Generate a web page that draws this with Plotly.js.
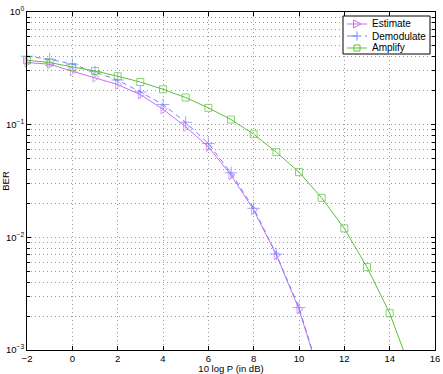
<!DOCTYPE html>
<html>
<head>
<meta charset="utf-8">
<script src="https://cdn.plot.ly/plotly-3.0.1.min.js"></script>
<style>html,body{margin:0;padding:0;background:#fff;}#chart{width:443px;height:374px;}</style>
</head>
<body>
<div id="chart"></div>
<script>
// Data
const xEstimate = [-2, -1, 0, 1, 2, 3, 4, 5, 6, 7, 8, 9, 10, 11];
const yEstimate = [0.356, 0.344, 0.298, 0.262, 0.227, 0.185, 0.137, 0.0957, 0.0636, 0.0357, 0.0175, 0.00697, 0.0023, 0.00052];

const xDemodulate = [-2, -1, 0, 1, 2, 3, 4, 5, 6, 7, 8, 9, 10, 11];
const yDemodulate = [0.405, 0.381, 0.344, 0.295, 0.249, 0.195, 0.151, 0.105, 0.068, 0.0374, 0.0181, 0.0071, 0.00238, 0.00053];

const xAmplify = [-2, -1, 0, 1, 2, 3, 4, 5, 6, 7, 8, 9, 10, 11, 12, 13, 14, 15];
const yAmplify = [0.373, 0.356, 0.325, 0.300, 0.269, 0.239, 0.206, 0.174, 0.141, 0.111, 0.0823, 0.057, 0.0379, 0.0224, 0.012, 0.00544, 0.00212, 0.00061];

const seriesNames = ['Estimate', 'Demodulate', 'Amplify'];
const xTickVals = [-2, 0, 2, 4, 6, 8, 10, 12, 14, 16];
const yTickVals = [1, 0.1, 0.01, 0.001];
const yTickText = ['10<sup>0</sup>', '10<sup>\u22121</sup>', '10<sup>\u22122</sup>', '10<sup>\u22123</sup>'];

const colors = ['#d06cf5', '#6f86ff', '#5cbf3c'];
const yMin = 1e-3;
function sizes(ys, s) { return ys.map(v => v >= yMin * 0.999 ? s : 0); }

const minorY = [];
[0.001, 0.01, 0.1].forEach(d => { for (let k = 2; k <= 9; k++) minorY.push(d * k); });

const gridColor = '#9a9a9a';
const gridDash = '1px,3px';

const traces = [
  {
    x: xEstimate, y: yEstimate, name: seriesNames[0], type: 'scatter', mode: 'lines+markers',
    line: {color: colors[0], width: 1},
    marker: {symbol: 'triangle-right-open', size: sizes(yEstimate, 8), color: colors[0], line: {width: 1, color: colors[0]}},
    cliponaxis: false, showlegend: false
  },
  {
    x: xDemodulate, y: yDemodulate, name: seriesNames[1], type: 'scatter', mode: 'lines+markers',
    line: {color: colors[1], width: 1, dash: '5px,4px'},
    marker: {symbol: 'cross-thin-open', size: sizes(yDemodulate, 9), color: colors[1], line: {width: 1, color: colors[1]}},
    cliponaxis: false, showlegend: false
  },
  {
    x: xAmplify, y: yAmplify, name: seriesNames[2], type: 'scatter', mode: 'lines+markers',
    line: {color: colors[2], width: 1},
    marker: {symbol: 'square-open', size: sizes(yAmplify, 7), color: colors[2], line: {width: 1, color: colors[2]}},
    cliponaxis: false, showlegend: false
  }
];

// Legend box drawn with shapes (pixel -> paper conversion for the plot area)
const PL = 27, PR = 435, PT = 12, PB = 350;
const fx = px => (px - PL) / (PR - PL);
const fy = py => (PB - py) / (PB - PT);
const pt = (px, py) => fx(px) + ',' + fy(py);

const shapes = [];
const annotations = [];
shapes.push({type: 'rect', xref: 'paper', yref: 'paper', x0: fx(343), x1: fx(430), y0: fy(16), y1: fy(54),
             line: {color: '#000', width: 1}, fillcolor: '#fff', layer: 'above'});
const rows = [24, 36, 48];
rows.forEach((cy, i) => {
  const c = colors[i];
  shapes.push({type: 'line', xref: 'paper', yref: 'paper', x0: fx(347), x1: fx(367), y0: fy(cy), y1: fy(cy),
               line: {color: c, width: 1, dash: i === 1 ? 'dash' : 'solid'}, layer: 'above'});
  const cx = 357;
  let path;
  if (i === 0) path = 'M' + pt(cx - 3.5, cy - 4) + ' L' + pt(cx + 4, cy) + ' L' + pt(cx - 3.5, cy + 4) + ' Z';
  else if (i === 1) path = 'M' + pt(cx - 4.5, cy) + ' L' + pt(cx + 4.5, cy) + ' M' + pt(cx, cy - 4.5) + ' L' + pt(cx, cy + 4.5);
  else path = 'M' + pt(cx - 3, cy - 3) + ' L' + pt(cx + 3, cy - 3) + ' L' + pt(cx + 3, cy + 3) + ' L' + pt(cx - 3, cy + 3) + ' Z';
  shapes.push({type: 'path', xref: 'paper', yref: 'paper', path: path, line: {color: c, width: 1}, fillcolor: 'rgba(0,0,0,0)', layer: 'above'});
  annotations.push({xref: 'paper', yref: 'paper', x: fx(370), y: fy(cy), xanchor: 'left', yanchor: 'middle',
                    text: seriesNames[i], showarrow: false, font: {size: 10, color: '#000'}});
});

const layout = {
  width: 443, height: 374,
  margin: {l: 27, r: 8, t: 12, b: 24, pad: 0},
  paper_bgcolor: '#fff', plot_bgcolor: '#fff',
  font: {family: 'Liberation Sans, Arial, sans-serif', size: 10, color: '#000'},
  showlegend: false,
  shapes: shapes,
  annotations: annotations,
  xaxis: {
    range: [-2, 16], tickmode: 'array', tickvals: xTickVals,
    ticks: 'inside', ticklen: 4, tickcolor: '#000',
    showline: true, linecolor: '#000', linewidth: 1, mirror: 'ticks',
    showgrid: true, gridcolor: gridColor, griddash: gridDash, gridwidth: 1,
    zeroline: false,
    title: {text: '10 log P (in dB)', font: {size: 9.5}, standoff: 0},
    tickfont: {size: 9.5}
  },
  yaxis: {
    type: 'log', range: [-3, 0], tickmode: 'array', tickvals: yTickVals, ticktext: yTickText,
    ticks: 'inside', ticklen: 4, tickcolor: '#000',
    showline: true, linecolor: '#000', linewidth: 1, mirror: 'ticks',
    showgrid: true, gridcolor: gridColor, griddash: gridDash, gridwidth: 1,
    zeroline: false,
    minor: {tickmode: 'array', tickvals: minorY, ticks: 'inside', ticklen: 3, tickcolor: '#000',
            showgrid: true, gridcolor: gridColor, griddash: gridDash, gridwidth: 1},
    title: {text: 'BER', font: {size: 9.5}, standoff: 2},
    tickfont: {size: 9.5}
  }
};

Plotly.newPlot('chart', traces, layout, {displayModeBar: false, staticPlot: true});
</script>
</body>
</html>
